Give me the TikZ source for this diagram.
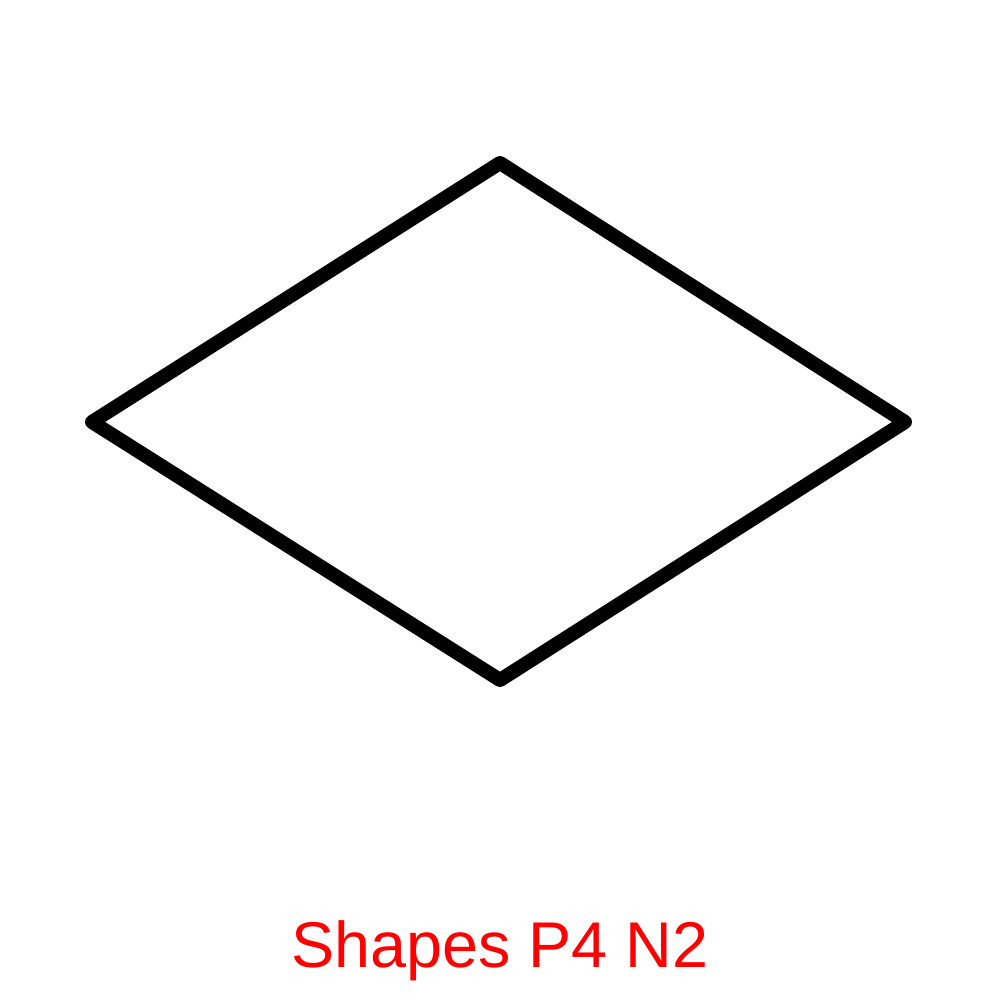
\documentclass[tikz,border=0pt]{standalone}
\usepackage{fontspec}
\setmainfont{Liberation Sans}
\definecolor{labelred}{RGB}{255,0,0}
\tikzset{outline/.style={line width=4pt, line join=round, line cap=round, draw=black}}
\begin{document}
\begin{tikzpicture}
\useasboundingbox (0,0) rectangle (10,10);
\draw[outline] (5,8.37) -- (9.05,5.78) -- (5,3.20) -- (0.92,5.78) -- cycle;
\node[anchor=base, text=labelred, font=\fontsize{18.4pt}{22pt}\selectfont, inner sep=0pt] (label) at (5,0.32) {Shapes P4 N2};
\end{tikzpicture}
\end{document}
